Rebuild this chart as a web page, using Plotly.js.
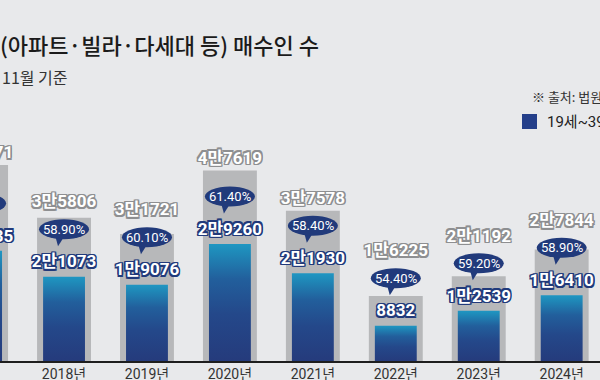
<!DOCTYPE html>
<html>
<head>
<meta charset="utf-8">
<script src="https://cdn.plot.ly/plotly-3.0.1.min.js"></script>
<style>
  html, body { margin: 0; padding: 0; background: #e8e9eb; }
  #chart { width: 600px; height: 380px; }
</style>
</head>
<body>
<div id="chart"></div>
<script>
// ---- data ----
const years = ['2017년', '2018년', '2019년', '2020년', '2021년', '2022년', '2023년', '2024년'];
const totalBuyers = [48971, 35806, 31721, 47619, 37578, 16225, 21192, 27844];
const youngBuyers = [27535, 21073, 19076, 29260, 21930, 8832, 12539, 16410];
const youngShare = [56.2, 58.9, 60.1, 61.4, 58.4, 54.4, 59.2, 58.9];

const titleText = '(아파트·빌라·다세대 등) 매수인 수';
const subtitleText = '11월 기준';
const sourceText = '※ 출처: 법원등기정보광장';
const legendText = '19세~39세';

// ---- layout constants ----
const W = 600, H = 380;
const mTop = 100, mBottom = 19;
const plotH = H - mTop - mBottom;     // 261 px
const yMax = 65250;                    // data units at plot top
const U = yMax / plotH;                // data units per pixel
const baseY = H - mBottom;             // baseline pixel

const NAVY = '#213a7b';
const GRAY_OUT = '#8e8f91';
const numFont = "Roboto, 'Noto Sans CJK KR', sans-serif";
const krFont = "'Noto Sans CJK KR', 'Noto Sans', sans-serif";

function fmtKo(v) {
  const man = Math.floor(v / 10000), rest = v % 10000;
  return man > 0 ? man + '만' + String(rest).padStart(4, '0') : String(rest);
}
function outline(c, d) {
  const s = [];
  for (const [dx, dy] of [[-d,-d],[d,-d],[-d,d],[d,d],[0,d],[0,-d],[d,0],[-d,0]]) {
    s.push(dx + 'px ' + dy + 'px 0 ' + c);
  }
  return s.join(', ');
}
const py = Y => (baseY - Y) / plotH; // pixel row -> paper y

// label positions derived from the data values
const youngLabelY = youngBuyers.map(v => v + 13.5 * U);
const bubbleY = youngLabelY.map(v => v + 34 * U);
const totalLabelY = totalBuyers.map((t, i) => Math.max(t + 11 * U, bubbleY[i] + 26 * U));

const traces = [
  {
    type: 'bar', x: years, y: totalBuyers, width: 0.65,
    marker: { color: '#b7b8ba', line: { width: 0 } },
    hoverinfo: 'skip', showlegend: false
  },
  {
    type: 'bar', x: years, y: youngBuyers, width: 0.505,
    marker: { color: '#243f82', line: { width: 0 } },
    hoverinfo: 'skip', showlegend: false
  },
  {
    type: 'scatter', mode: 'text', x: years, y: totalLabelY,
    text: totalBuyers.map(fmtKo), textposition: 'middle center',
    textfont: { family: numFont, size: 17, color: '#ffffff', weight: 700, shadow: outline(GRAY_OUT, 1.4) },
    cliponaxis: true, hoverinfo: 'skip', showlegend: false
  },
  {
    type: 'scatter', mode: 'text', x: years, y: youngLabelY,
    text: youngBuyers.map(fmtKo), textposition: 'middle center',
    textfont: { family: numFont, size: 17, color: '#ffffff', weight: 700, shadow: outline(NAVY, 1.4) },
    cliponaxis: true, hoverinfo: 'skip', showlegend: false
  }
];

const shapes = [];
years.forEach((yr, i) => {
  shapes.push({
    type: 'path', xref: 'x', yref: 'y', xsizemode: 'pixel', ysizemode: 'pixel',
    xanchor: yr, yanchor: bubbleY[i],
    path: 'M -9,-6 L -6,-17 L 1,-6 Z',
    fillcolor: NAVY, line: { width: 0 }, layer: 'above'
  });
  shapes.push({
    type: 'circle', xref: 'x', yref: 'y', xsizemode: 'pixel', ysizemode: 'pixel',
    xanchor: yr, yanchor: bubbleY[i], x0: -25, x1: 25, y0: -10, y1: 10,
    fillcolor: NAVY, line: { width: 0 }, layer: 'above'
  });
});
// legend swatch
shapes.push({
  type: 'rect', xref: 'paper', yref: 'paper',
  x0: 522 / W, x1: 537 / W, y0: py(129), y1: py(114),
  fillcolor: '#243f8a', line: { width: 0 }
});

const annotations = [
  { text: subtitleText, xref: 'paper', yref: 'paper', x: 0, y: py(77), xanchor: 'left', yanchor: 'middle',
    showarrow: false, font: { family: krFont, size: 16, color: '#333333' } },
  { text: sourceText, xref: 'paper', yref: 'paper', x: 530 / W, y: py(96), xanchor: 'left', yanchor: 'middle',
    showarrow: false, font: { family: krFont, size: 13, color: '#333333' } },
  { text: legendText, xref: 'paper', yref: 'paper', x: 545 / W, y: py(122), xanchor: 'left', yanchor: 'middle',
    showarrow: false, font: { family: numFont, size: 15, color: '#222222' } }
];
// percentage text inside the speech bubbles
years.forEach((yr, i) => {
  annotations.push({
    text: youngShare[i].toFixed(2) + '%', xref: 'x', yref: 'y', x: yr, y: bubbleY[i],
    xanchor: 'center', yanchor: 'middle', showarrow: false,
    font: { family: numFont, size: 13, color: '#ffffff' }
  });
});

const layout = {
  width: W, height: H,
  margin: { l: 0, r: 0, t: mTop, b: mBottom, pad: 0 },
  paper_bgcolor: '#e8e9eb', plot_bgcolor: '#e8e9eb',
  barmode: 'overlay',
  title: {
    text: titleText, x: 0, xref: 'container', xanchor: 'left',
    y: 1 - 46 / H, yref: 'container', yanchor: 'middle',
    font: { family: krFont, size: 22, color: '#1b1b1b', weight: 500 }
  },
  xaxis: {
    type: 'category', range: [0.228, 7.462], fixedrange: true,
    showline: true, linecolor: '#1e1e1e', linewidth: 1.5,
    showgrid: false, zeroline: false, ticks: '',
    tickfont: { family: numFont, size: 14, color: '#333333' }
  },
  yaxis: {
    range: [0, yMax], visible: false, fixedrange: true, showgrid: false, zeroline: false
  },
  shapes: shapes,
  annotations: annotations,
  showlegend: false
};

Plotly.newPlot('chart', traces, layout, { displayModeBar: false, staticPlot: true }).then(gd => {
  // vertical colour gradient for the young-buyer bars
  const svg = gd.querySelector('svg.main-svg');
  const NS = 'http://www.w3.org/2000/svg';
  let defs = svg.querySelector('defs');
  if (!defs) { defs = document.createElementNS(NS, 'defs'); svg.insertBefore(defs, svg.firstChild); }
  const g = document.createElementNS(NS, 'linearGradient');
  g.setAttribute('id', 'youngGrad');
  g.setAttribute('x1', '0'); g.setAttribute('y1', '0'); g.setAttribute('x2', '0'); g.setAttribute('y2', '1');
  [['0', '#1f96c2'], ['0.06', '#1f8cba'], ['0.3', '#225f9c'], ['0.6', '#24488a'], ['1', '#253b7c']].forEach(([o, c]) => {
    const s = document.createElementNS(NS, 'stop');
    s.setAttribute('offset', o); s.setAttribute('stop-color', c);
    g.appendChild(s);
  });
  defs.appendChild(g);
  const barTraces = gd.querySelectorAll('.barlayer .trace');
  if (barTraces[1]) {
    barTraces[1].querySelectorAll('path').forEach(p => { p.style.fill = 'url(#youngGrad)'; });
  }
});
</script>
</body>
</html>
